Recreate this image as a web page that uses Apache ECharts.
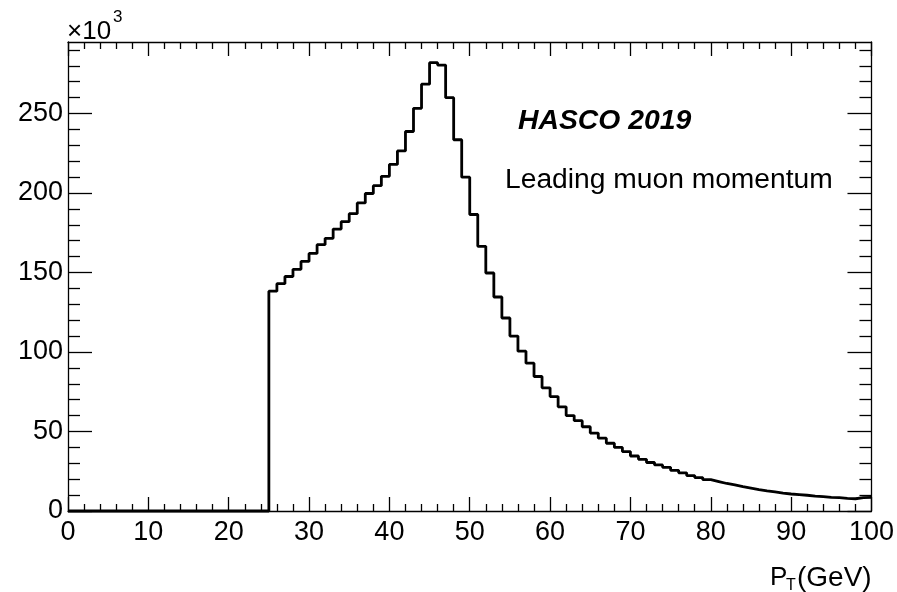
<!DOCTYPE html>
<html>
<head>
<meta charset="utf-8">
<script src="https://cdn.jsdelivr.net/npm/echarts@6/dist/echarts.min.js"></script>
<style>
html,body{margin:0;padding:0;background:#fff;}
#chart{width:897px;height:592px;}
</style>
</head>
<body>
<div id="chart"></div>
<script>
// Histogram: leading muon pT, 1 GeV bins from 0 to 100 GeV (counts in units of 10^3)
const binEdgesStart = 0;
const binWidth = 1;
const counts = [
  0,0,0,0,0,0,0,0,0,0,
  0,0,0,0,0,0,0,0,0,0,
  0,0,0,0,0,138.3,143,147.5,152,157,
  162,167.5,171.5,177.3,182,187,193.8,199.7,204.6,210.5,
  218,226.5,238.7,253.3,268.5,282,280.5,260,233.5,210,
  186.5,166.5,149.7,134.6,121.4,110,100.5,93,84.6,77.5,
  72,65.5,60,56.8,53,49,45.8,42.6,40,37.4,
  34.6,32.5,30.5,29,27.5,25.6,24,22.3,21,19.7,
  18.5,17.3,16.4,15.3,14.4,13.5,12.7,12,11.3,10.7,
  10.3,9.9,9.4,9,8.6,8.4,8,7.7,8.4,8.6
];
const xTickLabels = [0,10,20,30,40,50,60,70,80,90,100];
const yTickLabels = [0,50,100,150,200,250];
const yMinorTicks = [10,20,30,40,60,70,80,90,110,120,130,140,160,170,180,190,210,220,230,240,260,270,280,290];
const xMax = 100;
const yMax = 295;
const texts = {
  exponent: '\u00d710',
  exponentSup: '3',
  label1: 'HASCO 2019',
  label2: 'Leading muon momentum',
  xTitleMain: 'P',
  xTitleSub: 'T',
  xTitleRest: '(GeV)'
};

const points = counts.map((c, i) => [binEdgesStart + i * binWidth, c]);
points.push([binEdgesStart + counts.length * binWidth, counts[counts.length - 1]]);

const FONT = '"Liberation Sans", Arial, Helvetica, sans-serif';
const lineStyle = {color: '#000', width: 1.3};

function xAx(pos, showLabel) {
  return {
    type: 'value', position: pos, min: 0, max: xMax, interval: 10,
    axisLine: {show: true, onZero: false, lineStyle: lineStyle},
    axisTick: {show: true, inside: true, length: 14, lineStyle: lineStyle},
    minorTick: {show: true, splitNumber: 5, length: 7, lineStyle: lineStyle},
    splitLine: {show: false},
    axisLabel: {show: showLabel, color: '#000', fontFamily: FONT, fontSize: 27, margin: 8,
      customValues: xTickLabels},
  };
}
function yAx(pos, major, showLabel, showLine) {
  return {
    type: 'value', position: pos, min: 0, max: yMax,
    axisLine: {show: showLine, onZero: false, lineStyle: lineStyle},
    axisTick: {show: true, inside: true, length: major ? 24 : 12, lineStyle: lineStyle,
      customValues: major ? yTickLabels : yMinorTicks},
    minorTick: {show: false},
    splitLine: {show: false},
    axisLabel: {show: showLabel, color: '#000', fontFamily: FONT, fontSize: 27, margin: 5,
      customValues: yTickLabels},
  };
}

const chart = echarts.init(document.getElementById('chart'), null, {renderer: 'canvas'});
chart.setOption({
  animation: false,
  backgroundColor: '#fff',
  grid: {left: 68, right: 24, top: 42, bottom: 81, containLabel: false},
  xAxis: [xAx('bottom', true), xAx('top', false)],
  yAxis: [yAx('left', true, true, true), yAx('left', false, false, false),
          yAx('right', true, false, true), yAx('right', false, false, false)],
  series: [{
    type: 'line', xAxisIndex: 0, yAxisIndex: 0,
    data: points, step: 'end', symbol: 'none', clip: false,
    lineStyle: {color: '#000', width: 2.8},
  }],
  graphic: [
    {type: 'text', x: 67, y: 45, style: {text: texts.exponent, fill: '#000', font: '26px ' + FONT, align: 'left', verticalAlign: 'bottom'}},
    {type: 'text', x: 113, y: 9, style: {text: texts.exponentSup, fill: '#000', font: '17px ' + FONT, align: 'left', verticalAlign: 'top'}},
    {type: 'text', x: 518, y: 122, scaleX: 1.05, style: {text: texts.label1, fill: '#000', font: 'italic bold 27px ' + FONT, align: 'left', verticalAlign: 'middle'}},
    {type: 'text', x: 505, y: 181, scaleX: 1.045, style: {text: texts.label2, fill: '#000', font: '27px ' + FONT, align: 'left', verticalAlign: 'middle'}},
    {type: 'text', x: 770, y: 578, style: {text: texts.xTitleMain, fill: '#000', font: '26px ' + FONT, align: 'left', verticalAlign: 'middle'}},
    {type: 'text', x: 786, y: 586, style: {text: texts.xTitleSub, fill: '#000', font: '16px ' + FONT, align: 'left', verticalAlign: 'middle'}},
    {type: 'text', x: 797, y: 578, style: {text: texts.xTitleRest, fill: '#000', font: '28px ' + FONT, align: 'left', verticalAlign: 'middle'}}
  ]
});
</script>
</body>
</html>
